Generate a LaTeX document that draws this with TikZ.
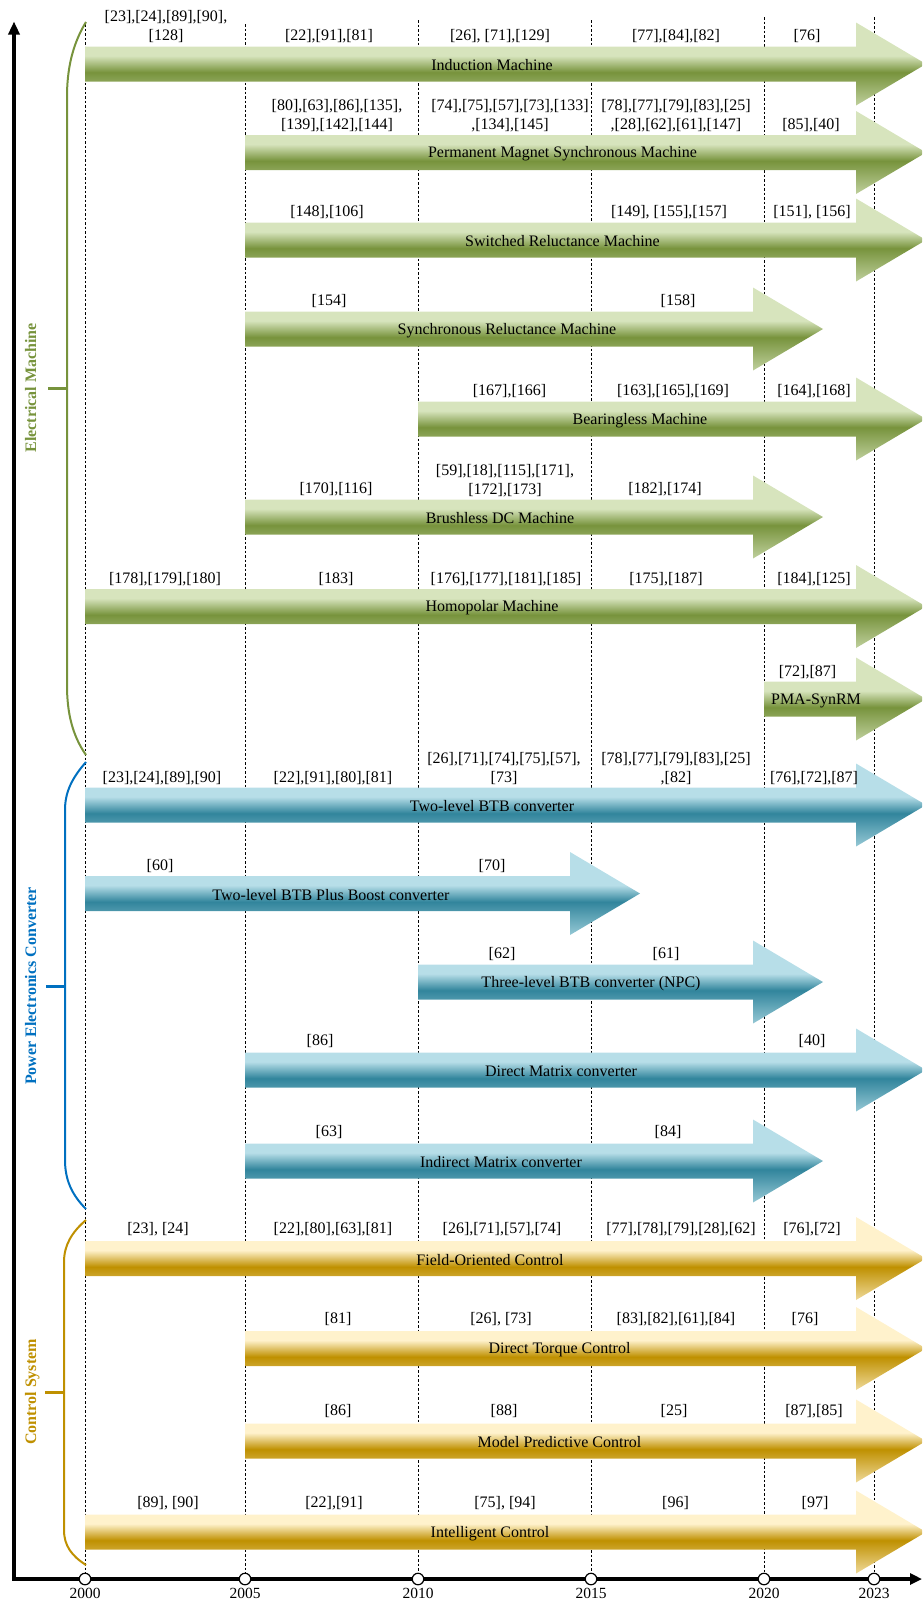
\documentclass[tikz,border=0pt]{standalone}
\usepackage{fontspec}
\setmainfont{Liberation Serif}
\usetikzlibrary{arrows.meta}

% colour families
\definecolor{gL}{HTML}{D7E4BD}
\definecolor{gD}{HTML}{77933C}
\colorlet{gM}{gL!75!gD}
\definecolor{bL}{HTML}{B7DEE8}
\definecolor{bD}{HTML}{31859C}
\colorlet{bM}{bL!75!bD}
\definecolor{yL}{HTML}{FFF2CC}
\definecolor{yD}{HTML}{BF9000}
\colorlet{yM}{yL!75!yD}
\definecolor{emcol}{HTML}{77933C}
\definecolor{pecol}{HTML}{0070C0}
\definecolor{cscol}{HTML}{BF9000}

% vertical shadings for the timeline arrows (inner 25bp..75bp spans the arrow)
\pgfdeclareverticalshading{emshade}{100bp}{color(0bp)=(gM); color(25bp)=(gM); color(45bp)=(gD); color(55bp)=(gL); color(100bp)=(gL)}
\pgfdeclareverticalshading{peshade}{100bp}{color(0bp)=(bM); color(25bp)=(bM); color(45bp)=(bD); color(55bp)=(bL); color(100bp)=(bL)}
\pgfdeclareverticalshading{csshade}{100bp}{color(0bp)=(yM); color(25bp)=(yM); color(45bp)=(yD); color(55bp)=(yL); color(100bp)=(yL)}

% timeline arrow: style, start x, tip x, centre y
\newcommand\timearrow[4]{%
  \path[#1] (#2,#4-17.5) -- (#3-70,#4-17.5) -- (#3-70,#4-41.5) -- (#3,#4)
    -- (#3-70,#4+41.5) -- (#3-70,#4+17.5) -- (#2,#4+17.5) -- cycle;}

\begin{document}
\begin{tikzpicture}[x=1pt,y=-1pt,
  elecarrow/.style={shading=emshade},
  convarrow/.style={shading=peshade},
  ctrlarrow/.style={shading=csshade},
  lbl/.style={font=\fontsize{16}{19}\selectfont, inner sep=0pt, yshift=-1.5pt},
  ref/.style={font=\fontsize{16}{19}\selectfont, inner sep=0pt, align=center, yshift=-1.5pt},
  yearlbl/.style={font=\fontsize{15.5}{18}\selectfont, inner sep=0pt},
  yearpt/.style={circle, draw=black, fill=white, line width=1.2pt, minimum size=11.5pt, inner sep=0pt},
  gridline/.style={black, line width=0.8pt, dash pattern=on 2.5pt off 2pt},
  axisline/.style={line width=4pt, line join=miter,
    {Triangle[length=13pt,width=11pt]}-{Triangle[length=12pt,width=11pt]}},
  bracepath/.style={line width=2pt},
  bracetick/.style={line width=3pt},
  sidelbl/.style={font=\fontsize{16}{19}\selectfont\bfseries, inner sep=0pt, rotate=90, anchor=base}]

\useasboundingbox (0,0) rectangle (922,1601);
\clip (0,0) rectangle (922,1601);

% year grid lines
\foreach \n/\x/\t in {2000/85/24, 2005/245/24, 2010/418/20, 2015/591/20, 2020/764/17, 2023/874/17} {
  \coordinate (top\n) at (\x,\t);
  \coordinate (base\n) at (\x,1579);
  \draw[gridline] (top\n) -- (base\n);
}

% electrical machines
\timearrow{elecarrow}{85}{926}{64}
\timearrow{elecarrow}{245}{926}{152.5}
\timearrow{elecarrow}{245}{926}{240}
\timearrow{elecarrow}{245}{823}{329}
\timearrow{elecarrow}{418}{926}{419}
\timearrow{elecarrow}{245}{823}{517}
\timearrow{elecarrow}{85}{926}{606.5}
\timearrow{elecarrow}{764}{926}{699}
% power electronics converters
\timearrow{convarrow}{85}{926}{805}
\timearrow{convarrow}{85}{640}{893.5}
\timearrow{convarrow}{418}{823}{982}
\timearrow{convarrow}{245}{926}{1070}
\timearrow{convarrow}{245}{823}{1161}
% control systems
\timearrow{ctrlarrow}{85}{926}{1258.5}
\timearrow{ctrlarrow}{245}{926}{1348.5}
\timearrow{ctrlarrow}{245}{926}{1441}
\timearrow{ctrlarrow}{85}{926}{1532}

% arrow labels
\node[lbl] (im)   at (492,64)    {Induction Machine};
\node[lbl] (pmsm) at (562.5,152.5) {Permanent Magnet Synchronous Machine};
\node[lbl] (srm)  at (562.5,240) {Switched Reluctance Machine};
\node[lbl] (synrm) at (507,329)  {Synchronous Reluctance Machine};
\node[lbl] (bm)   at (640,419)   {Bearingless Machine};
\node[lbl] (bldc) at (500,517)   {Brushless DC Machine};
\node[lbl] (hm)   at (492,606.5) {Homopolar Machine};
\node[lbl] (pma)  at (816,699)   {PMA-SynRM};
\node[lbl] (btb)  at (492,805)   {Two-level BTB converter};
\node[lbl] (boost) at (331,893.5) {Two-level BTB Plus Boost converter};
\node[lbl] (npc)  at (591,982)   {Three-level BTB converter (NPC)};
\node[lbl] (dmc)  at (561,1070)  {Direct Matrix converter};
\node[lbl] (imc)  at (501,1161)  {Indirect Matrix converter};
\node[lbl] (foc)  at (490,1258.5) {Field-Oriented Control};
\node[lbl] (dtc)  at (559.5,1348.5) {Direct Torque Control};
\node[lbl] (mpc)  at (559.5,1441) {Model Predictive Control};
\node[lbl] (ic)   at (490,1532)  {Intelligent Control};

% references: induction machine
\node[ref] (im1) at (166,25.5) {[23],[24],[89],[90],\\{}[128]};
\node[ref] (im2) at (329,35)   {[22],[91],[81]};
\node[ref] (im3) at (500,35)   {[26], [71],[129]};
\node[ref] (im4) at (676,35)   {[77],[84],[82]};
\node[ref] (im5) at (807,35)   {[76]};
% permanent magnet synchronous machine
\node[ref] (pm1) at (337,114)  {[80],[63],[86],[135],\\{}[139],[142],[144]};
\node[ref] (pm2) at (510,114)  {[74],[75],[57],[73],[133]\\,[134],[145]};
\node[ref] (pm3) at (676,114)  {[78],[77],[79],[83],[25]\\,[28],[62],[61],[147]};
\node[ref] (pm4) at (811,124)  {[85],[40]};
% switched reluctance machine
\node[ref] (sr1) at (327,211)  {[148],[106]};
\node[ref] (sr2) at (669,211)  {[149], [155],[157]};
\node[ref] (sr3) at (812,211)  {[151], [156]};
% synchronous reluctance machine
\node[ref] (sy1) at (329,300)  {[154]};
\node[ref] (sy2) at (678,300)  {[158]};
% bearingless machine
\node[ref] (bm1) at (509.5,390) {[167],[166]};
\node[ref] (bm2) at (673,390)  {[163],[165],[169]};
\node[ref] (bm3) at (814,390)  {[164],[168]};
% brushless dc machine
\node[ref] (bl1) at (336,488)  {[170],[116]};
\node[ref] (bl2) at (505,479)  {[59],[18],[115],[171],\\{}[172],[173]};
\node[ref] (bl3) at (665,488)  {[182],[174]};
% homopolar machine
\node[ref] (hm1) at (165,577.5) {[178],[179],[180]};
\node[ref] (hm2) at (336,577.5) {[183]};
\node[ref] (hm3) at (506,577.5) {[176],[177],[181],[185]};
\node[ref] (hm4) at (666,577.5) {[175],[187]};
\node[ref] (hm5) at (814,577.5) {[184],[125]};
% pma-synrm
\node[ref] (pa1) at (807.5,671) {[72],[87]};
% two-level btb
\node[ref] (bt1) at (162,777)  {[23],[24],[89],[90]};
\node[ref] (bt2) at (333,777)  {[22],[91],[80],[81]};
\node[ref] (bt3) at (504,767.5) {[26],[71],[74],[75],[57],\\{}[73]};
\node[ref] (bt4) at (676,767.5) {[78],[77],[79],[83],[25]\\,[82]};
\node[ref] (bt5) at (814,777)  {[76],[72],[87]};
% two-level btb plus boost
\node[ref] (bo1) at (160,864.5) {[60]};
\node[ref] (bo2) at (492,864.5) {[70]};
% three-level npc
\node[ref] (np1) at (502,953)  {[62]};
\node[ref] (np2) at (666,953)  {[61]};
% direct matrix
\node[ref] (dm1) at (320,1040) {[86]};
\node[ref] (dm2) at (812,1040) {[40]};
% indirect matrix
\node[ref] (in1) at (329,1131) {[63]};
\node[ref] (in2) at (668,1131) {[84]};
% field-oriented control
\node[ref] (fo1) at (158,1228) {[23], [24]};
\node[ref] (fo2) at (333,1228) {[22],[80],[63],[81]};
\node[ref] (fo3) at (502,1228) {[26],[71],[57],[74]};
\node[ref] (fo4) at (681,1228) {[77],[78],[79],[28],[62]};
\node[ref] (fo5) at (812,1228) {[76],[72]};
% direct torque control
\node[ref] (dt1) at (338,1318) {[81]};
\node[ref] (dt2) at (501,1318) {[26], [73]};
\node[ref] (dt3) at (676,1318) {[83],[82],[61],[84]};
\node[ref] (dt4) at (805,1318) {[76]};
% model predictive control
\node[ref] (mp1) at (338,1410) {[86]};
\node[ref] (mp2) at (504,1410) {[88]};
\node[ref] (mp3) at (674,1410) {[25]};
\node[ref] (mp4) at (814,1410) {[87],[85]};
% intelligent control
\node[ref] (ic1) at (168,1502) {[89], [90]};
\node[ref] (ic2) at (334,1502) {[22],[91]};
\node[ref] (ic3) at (505,1502) {[75], [94]};
\node[ref] (ic4) at (675.5,1502) {[96]};
\node[ref] (ic5) at (815,1502) {[97]};

% group braces
\draw[bracepath, emcol] (86,22) .. controls (72,45) and (67,70) .. (67,97)
  -- (67,685) .. controls (67,712) and (72,735) .. (86,755);
\draw[bracetick, emcol] (67,388) -- (48,388);
\draw[bracepath, pecol] (86,762) .. controls (72,778) and (65,792) .. (65,810)
  -- (65,1160) .. controls (65,1180) and (72,1195) .. (86,1209);
\draw[bracetick, pecol] (65,986) -- (46,986);
\draw[bracepath, cscol] (86,1220) .. controls (72,1232) and (64,1245) .. (64,1262)
  -- (64,1530) .. controls (64,1546) and (72,1556) .. (86,1565);
\draw[bracetick, cscol] (64,1392) -- (45,1392);

\node[sidelbl, text=emcol] (grpem) at (36,388)  {Electrical Machine};
\node[sidelbl, text=pecol] (grppe) at (36,986)  {Power Electronics Converter};
\node[sidelbl, text=cscol] (grpcs) at (36,1392) {Control System};

% axes
\coordinate (yend) at (14,21.5);
\coordinate (origin) at (14,1579);
\coordinate (xend) at (922,1579);
\draw[axisline] (yend) -- (origin) -- (xend);

% year markers
\foreach \n/\x in {2000/85, 2005/245, 2010/418, 2015/591, 2020/764, 2023/874} {
  \node[yearpt] (y\n) at (base\n) {};
  \node[yearlbl] (l\n) at (\x,1593) {\n};
}
\end{tikzpicture}
\end{document}
